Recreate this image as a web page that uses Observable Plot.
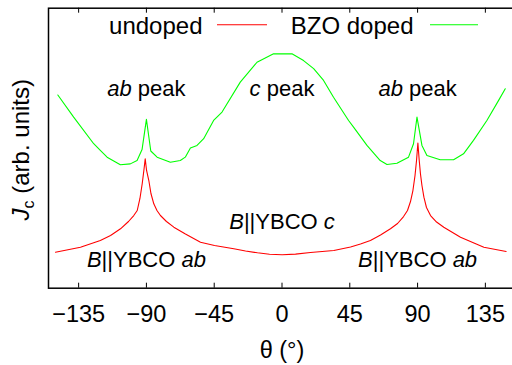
<!DOCTYPE html>
<html><head><meta charset="utf-8">
<script src="https://cdn.jsdelivr.net/npm/d3@7"></script>
<script src="https://cdn.jsdelivr.net/npm/@observablehq/plot@0.6"></script>
<style>
html,body{margin:0;padding:0;overflow:hidden;background:#fff;width:512px;height:365px}
#chart{position:relative;width:512px;height:365px;overflow:hidden}
</style>
</head><body><div id="chart"></div>
<script>
// Undoped film (red)
const thetaUndoped = [-150.4,-133.8,-120.6,-113.8,-107.2,-101.9,-98.4,-96.1,-94.3,-92.8,-91.7,-90.8,-89.9,-88.4,-87.0,-85.1,-83.0,-80.7,-76.7,-71.8,-64.1,-54.1,-44.8,-32.0,-24.2,-16.3,-8.3,0.1,9.0,18.9,34.4,45.5,52.1,58.7,65.4,72.0,76.7,80.7,83.3,85.3,86.9,88.3,89.3,90.2,91.1,91.9,92.9,94.2,95.9,98.6,102.6,107.4,118.5,134.0,148.8];
const jcUndoped    = [12.86,14.64,17.04,18.82,21.21,23.82,25.96,27.75,32.04,37.29,42.04,46.21,42.04,38.46,33.82,30.14,27.75,25.96,23.82,21.79,19.36,16.43,15.25,14.07,13.29,12.64,12.11,11.93,12.18,12.75,13.46,14.71,15.79,17.04,19.0,21.21,23.11,25.6,27.75,30.96,34.89,40.25,45.6,51.86,45.6,40.86,36.68,32.5,28.82,25.96,23.64,21.79,18.21,14.64,13.11];
// BZO doped film (green)
const thetaDoped = [-148.8,-138.3,-125.0,-120.6,-116.1,-107.3,-100.7,-96.2,-92.9,-90.0,-87.1,-82.9,-74.1,-67.5,-64.2,-60.8,-56.4,-52.0,-45.4,-39.8,-27.7,-16.6,-5.6,6.6,14.3,21.0,27.6,34.2,44.2,47.5,56.4,65.2,69.7,76.3,84.0,87.3,89.6,92.9,96.2,105.0,113.9,120.5,127.1,136.0,143.7,148.2];
const jcDoped    = [69.0,61.1,51.6,49.2,46.8,44.1,44.4,45.6,49.5,60.3,49.0,46.8,45.0,45.6,46.8,50.1,51.0,53.4,59.9,62.9,73.6,80.7,83.7,83.7,81.3,78.4,74.2,68.2,59.9,57.5,51.0,45.6,44.2,44.6,46.8,51.6,61.1,51.0,47.4,45.9,45.9,48.0,52.8,59.9,67.0,71.2];

const xTicks = [-135,-90,-45,0,45,90,135];
const seriesNames = ["undoped","BZO doped"];
const seriesColors = ["#ff0000","#00ff00"];

// annotation texts: [string, style] parts, style "i" = italic
const peakLabelTheta = [-90, 0, 90];
const peakLabelParts = [[["ab","i"],[" peak",""]],[["c","i"],[" peak",""]],[["ab","i"],[" peak",""]]];
const peakLabelJc = 68.5;
const fieldLabelTheta = [0, -90, 90];
const fieldLabelParts = [[["B","i"],["||YBCO ",""],["c","i"]],[["B","i"],["||YBCO ",""],["ab","i"]],[["B","i"],["||YBCO ",""],["ab","i"]]];
const fieldLabelJc = [21.3, 7.5, 7.5];
const yLabelParts = [["J","i"],["c","sub"],[" (arb. units)",""]];
const xLabel = "θ (°)";

const undoped = thetaUndoped.map((t,i)=>({theta:t, jc:jcUndoped[i]}));
const doped = thetaDoped.map((t,i)=>({theta:t, jc:jcDoped[i]}));
const joinParts = p => p.map(d=>d[0]).join("");
const peakLabels = peakLabelTheta.map((t,i)=>({theta:t, jc:peakLabelJc, text:joinParts(peakLabelParts[i])}));
const fieldLabels = fieldLabelTheta.map((t,i)=>({theta:t, jc:fieldLabelJc[i], text:joinParts(fieldLabelParts[i])}));

const FONT = "'Liberation Sans', Arial, Helvetica, sans-serif";
const W = 516, H = 365, ML = 48, MR = 1, MT = 7.7, MB = 77.3;

const chart = Plot.plot({
  width: W, height: H,
  marginLeft: ML, marginRight: MR, marginTop: MT, marginBottom: MB,
  style: {fontFamily: FONT, fontSize: "23px", color: "#000", background: "#fff"},
  x: {domain: [-155, 155]},
  y: {domain: [0, 100], axis: null},
  marks: [
    Plot.line(undoped, {x: "theta", y: "jc", stroke: seriesColors[0], strokeWidth: 1.1}),
    Plot.line(doped, {x: "theta", y: "jc", stroke: seriesColors[1], strokeWidth: 1.1}),
    Plot.tickX(xTicks, {x: d => d, insetTop: 275, stroke: "#000", strokeWidth: 1}),
    Plot.tickX(xTicks, {x: d => d, insetBottom: 275, stroke: "#000", strokeWidth: 1}),
    Plot.axisX({ticks: xTicks, tickSize: 0, tickPadding: 17, fontSize: 23.5, label: null}),
    Plot.text(peakLabels, {x: "theta", y: "jc", text: "text", lineAnchor: "bottom", textAnchor: "middle", fontSize: 22, fill: "#000"}),
    Plot.text(fieldLabels, {x: "theta", y: "jc", text: "text", lineAnchor: "bottom", textAnchor: "middle", fontSize: 22, fill: "#000"}),
    Plot.text([xLabel], {frameAnchor: "bottom", dy: 70, lineAnchor: "bottom", textAnchor: "middle", fontSize: 23.5, fill: "#000"}),
    Plot.text([joinParts(yLabelParts)], {frameAnchor: "left", dx: -19.5, dy: 1.5, rotate: -90, lineAnchor: "bottom", textAnchor: "middle", fontSize: 24, fill: "#000"}),
    Plot.text([seriesNames[0]], {frameAnchor: "top-left", dx: 154, dy: 25.3, lineAnchor: "bottom", textAnchor: "end", fontSize: 24, fill: "#000"}),
    Plot.text([seriesNames[1]], {frameAnchor: "top-left", dx: 365, dy: 25.3, lineAnchor: "bottom", textAnchor: "end", fontSize: 24, fill: "#000"}),
    Plot.frame({stroke: "#000", strokeWidth: 1.5})
  ]
});
chart.style.maxWidth = "none";
chart.style.overflow = "hidden";

const NS = "http://www.w3.org/2000/svg";
function richify(plain, parts) {
  chart.querySelectorAll("text").forEach(t => {
    if (t.textContent === plain && !t.getAttribute("data-rich")) {
      t.textContent = "";
      parts.forEach(([s, st], k) => {
        const ts = document.createElementNS(NS, "tspan");
        ts.textContent = s;
        if (st === "i") ts.setAttribute("font-style", "italic");
        if (st === "sub") { ts.setAttribute("font-size", "16px"); ts.setAttribute("dy", "5"); }
        if (k > 0 && parts[k-1][1] === "sub") ts.setAttribute("dy", "-5");
        t.appendChild(ts);
      });
      t.setAttribute("data-rich", "1");
    }
  });
}
peakLabelParts.forEach(p => richify(joinParts(p), p));
fieldLabelParts.forEach(p => richify(joinParts(p), p));
richify(joinParts(yLabelParts), yLabelParts);

// legend sample lines (key), placed relative to the frame
const keyY = MT + 17;
const keyLines = [[ML + 169, ML + 219], [ML + 382, ML + 430]];
keyLines.forEach(([a, b], i) => {
  const l = document.createElementNS(NS, "line");
  l.setAttribute("x1", a); l.setAttribute("x2", b);
  l.setAttribute("y1", keyY); l.setAttribute("y2", keyY);
  l.setAttribute("stroke", seriesColors[i]); l.setAttribute("stroke-width", "1.1");
  chart.appendChild(l);
});

document.getElementById("chart").appendChild(chart);
</script>
</body></html>
